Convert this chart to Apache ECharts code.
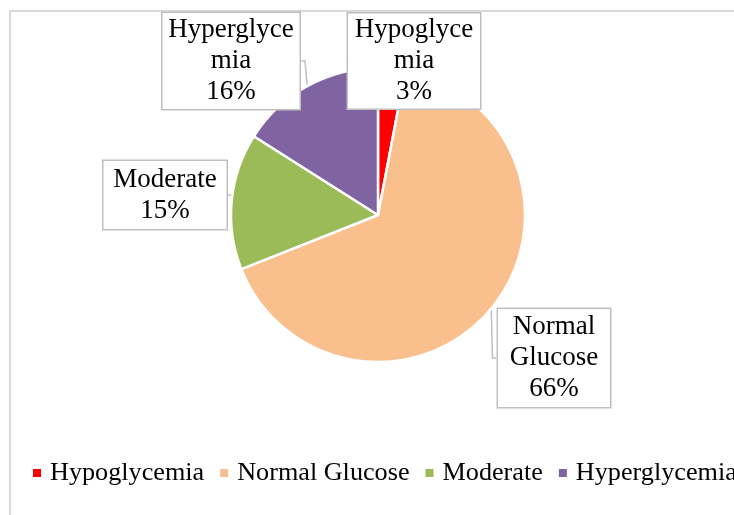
<!DOCTYPE html>
<html>
<head>
    <meta charset="utf-8">
    <title>Glucose</title>
    <script src="https://cdn.jsdelivr.net/npm/echarts@6/dist/echarts.min.js"></script>
    <style type="text/css">
        body { margin: 0; background: #fff; }
        #main { width: 734px; height: 515px; }
    </style>
</head>
<body>
    <div id="main"></div>

    <script type="text/javascript">
        var categories = ['Hypoglycemia', 'Normal Glucose', 'Moderate', 'Hyperglycemia'];
        var values = [3, 66, 15, 16];
        var colors = ['#ff0000', '#f9c08e', '#9bbb59', '#8064a2'];
        // wrapped text used inside the callout boxes
        var boxText = ['Hypoglyce\nmia', 'Normal\nGlucose', 'Moderate', 'Hyperglyce\nmia'];

        // callout box placement: center x, center y, width, height
        var boxes = [
            [414, 61, 135, 98],
            [554, 358, 115, 101],
            [165, 195, 126, 71],
            [231, 61, 140, 99]
        ];

        var font = 'Liberation Serif, Times New Roman, serif';

        var chart = echarts.init(document.getElementById('main'));

        var pieData = [];
        for (var i = 0; i < categories.length; i++) {
            pieData.push({
                name: categories[i],
                value: values[i],
                itemStyle: { color: colors[i] },
                label: {
                    width: boxes[i][2] - 3,
                    height: boxes[i][3] - 3
                }
            });
        }

        var option = {
            animation: false,
            graphic: [
                {
                    type: 'rect',
                    shape: { x: 10, y: 11, width: 800, height: 600 },
                    style: { fill: 'none', stroke: '#d9d9d9', lineWidth: 2 },
                    z: -10
                }
            ],
            legend: {
                data: categories,
                left: 26,
                top: 455,
                width: 1000,
                icon: 'rect',
                itemWidth: 10,
                itemHeight: 10,
                itemGap: 14,
                textStyle: {
                    fontFamily: font,
                    fontSize: 26.2,
                    color: '#000',
                    padding: [0, 0, 0, 3]
                }
            },
            series: [
                {
                    type: 'pie',
                    center: [378, 215],
                    radius: 147,
                    startAngle: 90,
                    clockwise: true,
                    data: pieData,
                    itemStyle: { borderColor: '#fff', borderWidth: 2.5 },
                    label: {
                        show: true,
                        position: 'outside',
                        formatter: function (p) {
                            return boxText[p.dataIndex] + '\n' + Math.round(p.percent) + '%';
                        },
                        fontFamily: font,
                        fontSize: 27,
                        lineHeight: 31,
                        color: '#000',
                        align: 'center',
                        verticalAlign: 'middle',
                        backgroundColor: '#fff',
                        borderColor: '#bfbfbf',
                        borderWidth: 1.5,
                        padding: 0
                    },
                    labelLine: {
                        show: true,
                        length: 6,
                        length2: 4,
                        lineStyle: { color: '#bfbfbf', width: 1.5 }
                    },
                    labelLayout: function (params) {
                        var b = boxes[params.dataIndex];
                        return {
                            x: b[0],
                            y: b[1],
                            align: 'center',
                            verticalAlign: 'middle'
                        };
                    }
                }
            ]
        };
        chart.setOption(option);
    </script>
</body>
</html>
